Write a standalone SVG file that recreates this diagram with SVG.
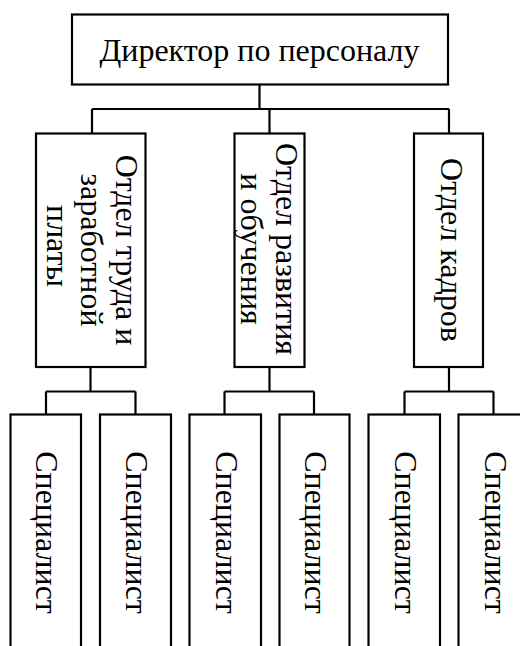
<svg xmlns="http://www.w3.org/2000/svg" width="520" height="646" viewBox="0 0 520 646">
<style>
.box{fill:#fff;stroke:#000;stroke-width:2.2}
.ln{fill:none;stroke:#000;stroke-width:2.2}
.t{font-family:"Liberation Serif","Times New Roman",serif;font-size:32px;fill:#000;text-anchor:middle}
</style>
<rect x="0" y="0" width="520" height="646" fill="#fff"/>
<g id="connectors">
<path class="ln" d="M259.5 84.5V109M92 109H449M92 109V133.5M269.5 109V133.5M449 109V133.5"/>
<path class="ln" d="M90.5 367V391.5M46 391.5H135.5M46 391.5V414.5M135.5 391.5V414.5"/>
<path class="ln" d="M269.5 367V391.5M224.5 391.5H314M224.5 391.5V414.5M314 391.5V414.5"/>
<path class="ln" d="M449 367V391.5M404.5 391.5H493.5M404.5 391.5V414.5M493.5 391.5V414.5"/>
</g>
<g id="director">
<rect class="box" x="72" y="14.5" width="376" height="70"/>
<text class="t" x="259.5" y="61">Директор по персоналу</text>
</g>
<g id="dept1">
<rect class="box" x="36" y="133.5" width="109.5" height="233.5"/>
<text class="t" x="116" y="250" transform="rotate(90 116 250)">Отдел труда и</text>
<text class="t" x="81" y="250" transform="rotate(90 81 250)">заработной</text>
<text class="t" x="46.5" y="246" transform="rotate(90 46.5 246)">платы</text>
</g>
<g id="dept2">
<rect class="box" x="234.5" y="133.5" width="70" height="233.5"/>
<text class="t" x="275.5" y="249" transform="rotate(90 275.5 249)">Отдел развития</text>
<text class="t" x="240.5" y="249" transform="rotate(90 240.5 249)">и обучения</text>
</g>
<g id="dept3">
<rect class="box" x="414" y="133.5" width="69" height="233.5"/>
<text class="t" x="440.5" y="250" transform="rotate(90 440.5 250)">Отдел кадров</text>
</g>
<g id="spec1">
<rect class="box" x="10.5" y="414.5" width="70.5" height="250"/>
<text class="t" x="36" y="532.5" transform="rotate(90 36 532.5)">Специалист</text>
</g>
<g id="spec2">
<rect class="box" x="100" y="414.5" width="71" height="250"/>
<text class="t" x="126" y="532.5" transform="rotate(90 126 532.5)">Специалист</text>
</g>
<g id="spec3">
<rect class="box" x="189.5" y="414.5" width="71.5" height="250"/>
<text class="t" x="215.5" y="532.5" transform="rotate(90 215.5 532.5)">Специалист</text>
</g>
<g id="spec4">
<rect class="box" x="279.5" y="414.5" width="70" height="250"/>
<text class="t" x="305" y="532.5" transform="rotate(90 305 532.5)">Специалист</text>
</g>
<g id="spec5">
<rect class="box" x="368.5" y="414.5" width="71.5" height="250"/>
<text class="t" x="395" y="532.5" transform="rotate(90 395 532.5)">Специалист</text>
</g>
<g id="spec6">
<rect class="box" x="458.5" y="414.5" width="72" height="250"/>
<text class="t" x="485" y="532.5" transform="rotate(90 485 532.5)">Специалист</text>
</g>
</svg>
